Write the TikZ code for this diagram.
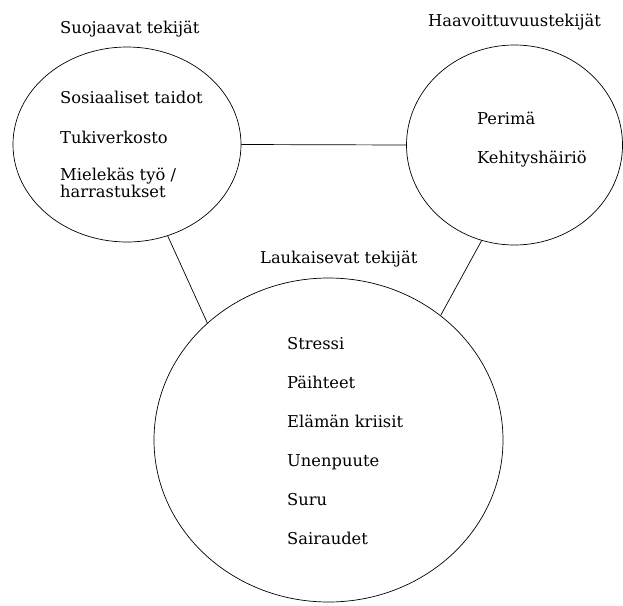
\documentclass[tikz,border=0pt]{standalone}
\usepackage{fontspec}
\setmainfont{DejaVu Serif}
\usetikzlibrary{shapes.geometric}

\begin{document}
\begin{tikzpicture}[x=1pt,y=1pt,font=\fontsize{16.3}{17.5}\selectfont,
    circ/.style={draw,ellipse,inner sep=0pt,line width=0.7pt},
    item/.style={anchor=base west,inner sep=0pt,align=left}]
  \useasboundingbox (0,0) rectangle (623,-605);

  % the three groups of factors
  \node[circ,minimum width=228,minimum height=195] (suoj) at (127,-144.5) {};
  \node[circ,minimum width=216,minimum height=200] (haav) at (514.5,-145) {};
  \node[circ,minimum width=349,minimum height=324] (lauk) at (328.5,-440) {};

  \draw[line width=0.7pt] (suoj.east) -- (haav.west);
  \draw[line width=0.7pt] (suoj.-66) -- (lauk.136);
  \draw[line width=0.7pt] (haav.-109) -- (lauk.48);

  \node[item] (tsuoj) at (60,-33) {Suojaavat tekijät};
  \node[item] (thaav) at (428,-26) {Haavoittuvuustekijät};
  \node[item] (tlauk) at (260,-263) {Laukaisevat tekijät};

  \node[item] (s1) at (60,-103) {Sosiaaliset taidot};
  \node[item] (s2) at (60,-143) {Tukiverkosto};
  % base of a two-line node is its last line
  \node[item] (s3) at (60,-197.5) {Mielekäs työ /\\harrastukset};

  \node[item] (h1) at (477,-124) {Perimä};
  \node[item] (h2) at (477,-163) {Kehityshäiriö};

  \node[item] (l1) at (287,-349) {Stressi};
  \node[item] (l2) at (287,-388) {Päihteet};
  \node[item] (l3) at (287,-427) {Elämän kriisit};
  \node[item] (l4) at (287,-466) {Unenpuute};
  \node[item] (l5) at (287,-505) {Suru};
  \node[item] (l6) at (287,-544) {Sairaudet};
\end{tikzpicture}
\end{document}
